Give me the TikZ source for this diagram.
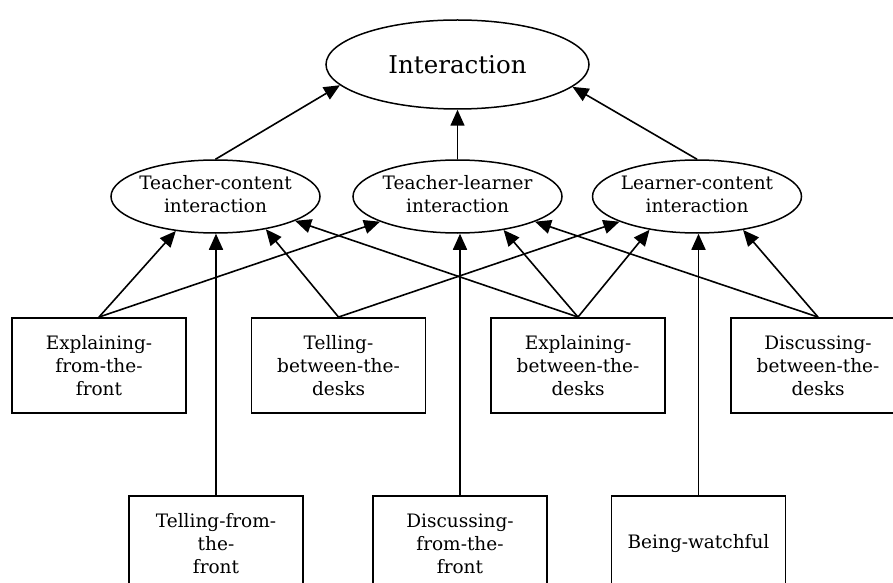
\documentclass[tikz,border=0pt]{standalone}
\usepackage{fontspec}
\setmainfont{DejaVu Serif}
\usetikzlibrary{shapes.geometric,arrows.meta}

% text centred inside an oval without letting it widen the oval
\newcommand{\ovaltext}[2]{\makebox[0pt]{\begin{tabular}{@{}c@{}}#1\\#2\end{tabular}}}

\tikzset{
  every node/.style={font=\fontsize{18.5}{23}\selectfont},
  oval/.style={ellipse, draw, line width=1.5pt, inner sep=0pt,
               minimum width=209pt, minimum height=73pt},
  act/.style={rectangle, draw, line width=1.9pt, inner sep=0pt,
              minimum width=174pt, minimum height=95pt, align=center},
  link/.style={line width=1.6pt, -{Triangle[length=16pt,width=14pt]}},
}

\begin{document}
\begin{tikzpicture}[x=1pt,y=1pt]
  \useasboundingbox (0,0) rectangle (893,582);
  \clip (0,0) rectangle (893,582);
  \fill[white] (0,0) rectangle (893,582);

  % top level
  \node[oval, minimum width=263pt, minimum height=89pt,
        font=\fontsize{24.5}{29}\selectfont] (int) at (457.5,517.5)
        {\makebox[0pt]{Interaction}};

  % kinds of interaction
  \node[oval] (tc) at (215.5,385.5) {\ovaltext{Teacher-content}{interaction}};
  \node[oval] (tl) at (457.5,385.5) {\ovaltext{Teacher-learner}{interaction}};
  \node[oval] (lc) at (697,385.5)   {\ovaltext{Learner-content}{interaction}};

  % activities, upper row
  \node[act] (eff) at (99,216.5)  {Explaining-\\from-the-\\front};
  \node[act] (tbd) at (338.5,216.5) {Telling-\\between-the-\\desks};
  \node[act] (ebd) at (578,216.5) {Explaining-\\between-the-\\desks};
  \node[act] (dbd) at (818,216.5) {Discussing-\\between-the-\\desks};

  % activities, lower row
  \node[act] (tff) at (216,38.5)   {Telling-from-\\the-\\front};
  \node[act] (dff) at (460,38.5)   {Discussing-\\from-the-\\front};
  \node[act] (bw)  at (698.5,38.5) {Being-watchful};

  % activities to kinds of interaction
  \draw[link] (eff.north) -- (tc.221);
  \draw[link] (eff.north) -- (tl.198);
  \draw[link] (tbd.north) -- (tc.327);
  \draw[link] (tbd.north) -- (lc.198);
  \draw[link] (ebd.north) -- (tc.343);
  \draw[link] (ebd.north) -- (tl.324);
  \draw[link] (ebd.north) -- (lc.215);
  \draw[link] (dbd.north) -- (tl.342);
  \draw[link] (dbd.north) -- (lc.324);
  \draw[link] (tff.north) -- (tff.north |- tc.south);
  \draw[link] (dff.north) -- (dff.north |- tl.south);
  \draw[link] (bw.north)  -- (bw.north |- lc.south);

  % kinds of interaction to the whole
  \draw[link] (tc.north) -- (int.190);
  \draw[link] (tl.north) -- (int.south);
  \draw[link] (lc.north) -- (int.349);
\end{tikzpicture}
\end{document}
